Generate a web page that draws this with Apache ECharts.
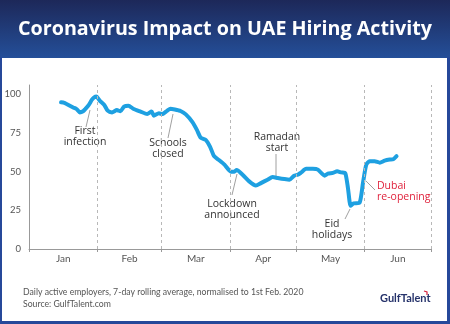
<!DOCTYPE html>
<html><head><meta charset="utf-8">
<script src="https://cdn.jsdelivr.net/npm/echarts@6/dist/echarts.min.js"></script>
<style>html,body{margin:0;padding:0;background:#fff}#c{width:450px;height:324px}</style>
</head><body><div id="c"></div>
<script>
// Day of year 2020 (0 = 1 Jan) and normalised hiring activity
const days = [14.5,16,17,20,21.5,23,24.5,25.5,27,28.5,29.5,30.5,32,34,35.6,37.6,39.8,41.4,43,45,47.4,50.5,53.5,55.5,56.5,58.8,60.3,62.6,64,66,68.6,71,74,76,77.7,80,82,83.8,86,88.5,91.4,93,94,96.7,99.7,102.7,105,108,110.3,112.6,115.6,117.9,120,121.7,123,125.5,128.5,130.8,133.8,135.3,137.6,139.5,141.4,143.2,144.4,145.6,147,149.7,151.2,152.7,154.2,156.5,158.8,161,163.3,164.9,166.4];
const values = [94.8,94.5,93.7,91.5,90.5,88.3,89,90.5,93,96.5,98,98.5,95.9,93.3,89.4,88.3,89.8,89,92,92.6,90.5,88.8,87.2,88.8,86.2,87.7,87.2,89.4,90.7,90.2,89.2,87,82,77,72,70.5,66,60,57.5,54.5,50,50,51,48,43.7,41,42.6,44.8,46.5,45.9,45.2,44.8,47.4,48,49.2,51.8,51.8,51.3,47.4,48.7,49.2,50.2,49.5,49,39.4,28,29.5,30,42.7,54.5,56.7,56.7,55.8,57.1,57.8,58,60];
const monthNames = ['Jan','Feb','Mar','Apr','May','Jun'];
const monthStarts = [0,31,60,91,121,152,182];
const yTicks = [0,25,50,75,100];

const monthMids = monthNames.map((m,i)=>(monthStarts[i]+monthStarts[i+1])/2);
const chart = echarts.init(document.getElementById('c'), null, {renderer:'canvas'});
const FONT = 'Lato';
const AFONT = '"Open Sans"';
const txt = (x,y,lines,color,align) => ({type:'text', x:x, y:y, style:{text:lines, fill:color||'#333', font:'10.5px '+AFONT, textAlign:align||'center', textVerticalAlign:'top', lineHeight:10.5}});
const ln = (x1,y1,x2,y2) => ({type:'line', shape:{x1,y1,x2,y2}, style:{stroke:'#888', lineWidth:0.8}});

chart.setOption({
  animation:false,
  grid:{left:29, right:19, top:85, bottom:75},
  xAxis:{type:'value', min:0, max:182,
    axisLine:{show:true, lineStyle:{color:'#999', width:1}},
    axisTick:{show:true, customValues:monthStarts, length:3, lineStyle:{color:'#999'}},
    axisLabel:{customValues:monthMids, formatter:(v)=>monthNames[monthMids.indexOf(v)], color:'#555', fontSize:10, fontFamily:FONT, margin:5},
    splitLine:{show:false}},
  yAxis:{type:'value', min:0, max:106, interval:25,
    axisLine:{show:true, lineStyle:{color:'#999', width:1}},
    axisTick:{show:false},
    axisLabel:{customValues:yTicks, color:'#555', fontSize:9.5, fontFamily:FONT, margin:8},
    splitLine:{show:false}},
  series:[{type:'line', data:days.map((d,i)=>[d,values[i]]), showSymbol:false, smooth:0.2,
    lineStyle:{color:'#1ea0e1', width:4, cap:'round', join:'round'},
    markLine:{silent:true, symbol:'none', label:{show:false},
      lineStyle:{color:'#b8b8b8', type:[3,3], width:1},
      data:monthStarts.slice(1).map(d=>({xAxis:d}))}
  }],
  graphic:[
    {type:'rect', shape:{x:0,y:0,width:450,height:58}, style:{fill:new echarts.graphic.LinearGradient(0,0,0,1,[{offset:0,color:'#1d2859'},{offset:1,color:'#244f99'}])}},
    {type:'rect', shape:{x:0,y:57,width:2,height:267}, style:{fill:'#26489a'}},
    {type:'rect', shape:{x:447,y:57,width:3,height:267}, style:{fill:'#26489a'}},
    {type:'rect', shape:{x:0,y:321,width:450,height:3}, style:{fill:'#26489a'}},
    {type:'text', x:225, y:29, style:{text:'Coronavirus Impact on UAE Hiring Activity', fill:'#fff', font:'bold 19.7px '+AFONT, textAlign:'center', textVerticalAlign:'middle'}},
    txt(85,126,'First\ninfection'), ln(86,127,90,110),
    txt(168,138,'Schools\nclosed'), ln(168,138,173,114),
    txt(232,199,'Lockdown\nannounced'), ln(232,195,237,174),
    txt(277,132,'Ramadan\nstart'), ln(276,154,276,176),
    txt(332,219,'Eid\nholidays'), ln(345,219,350,209),
    txt(377,181,'Dubai\nre-opening','#e0223c','left'), ln(375,190,366,181),
    {type:'text', x:23, y:292, style:{text:'Daily active employers, 7-day rolling average, normalised to 1st Feb. 2020', fill:'#555', font:'8.7px '+FONT, textVerticalAlign:'middle'}},
    {type:'text', x:23, y:304, style:{text:'Source: GulfTalent.com', fill:'#555', font:'8.7px '+FONT, textVerticalAlign:'middle'}},
    {type:'text', x:380, y:298, style:{text:'GulfTalent', fill:'#26336b', font:'bold 11px '+FONT, textVerticalAlign:'middle'}},
    {type:'polyline', shape:{points:[[424,291],[427,292],[427,295]]}, style:{stroke:'#d8203a', lineWidth:1.2, fill:null}}
  ]
});
</script></body></html>
